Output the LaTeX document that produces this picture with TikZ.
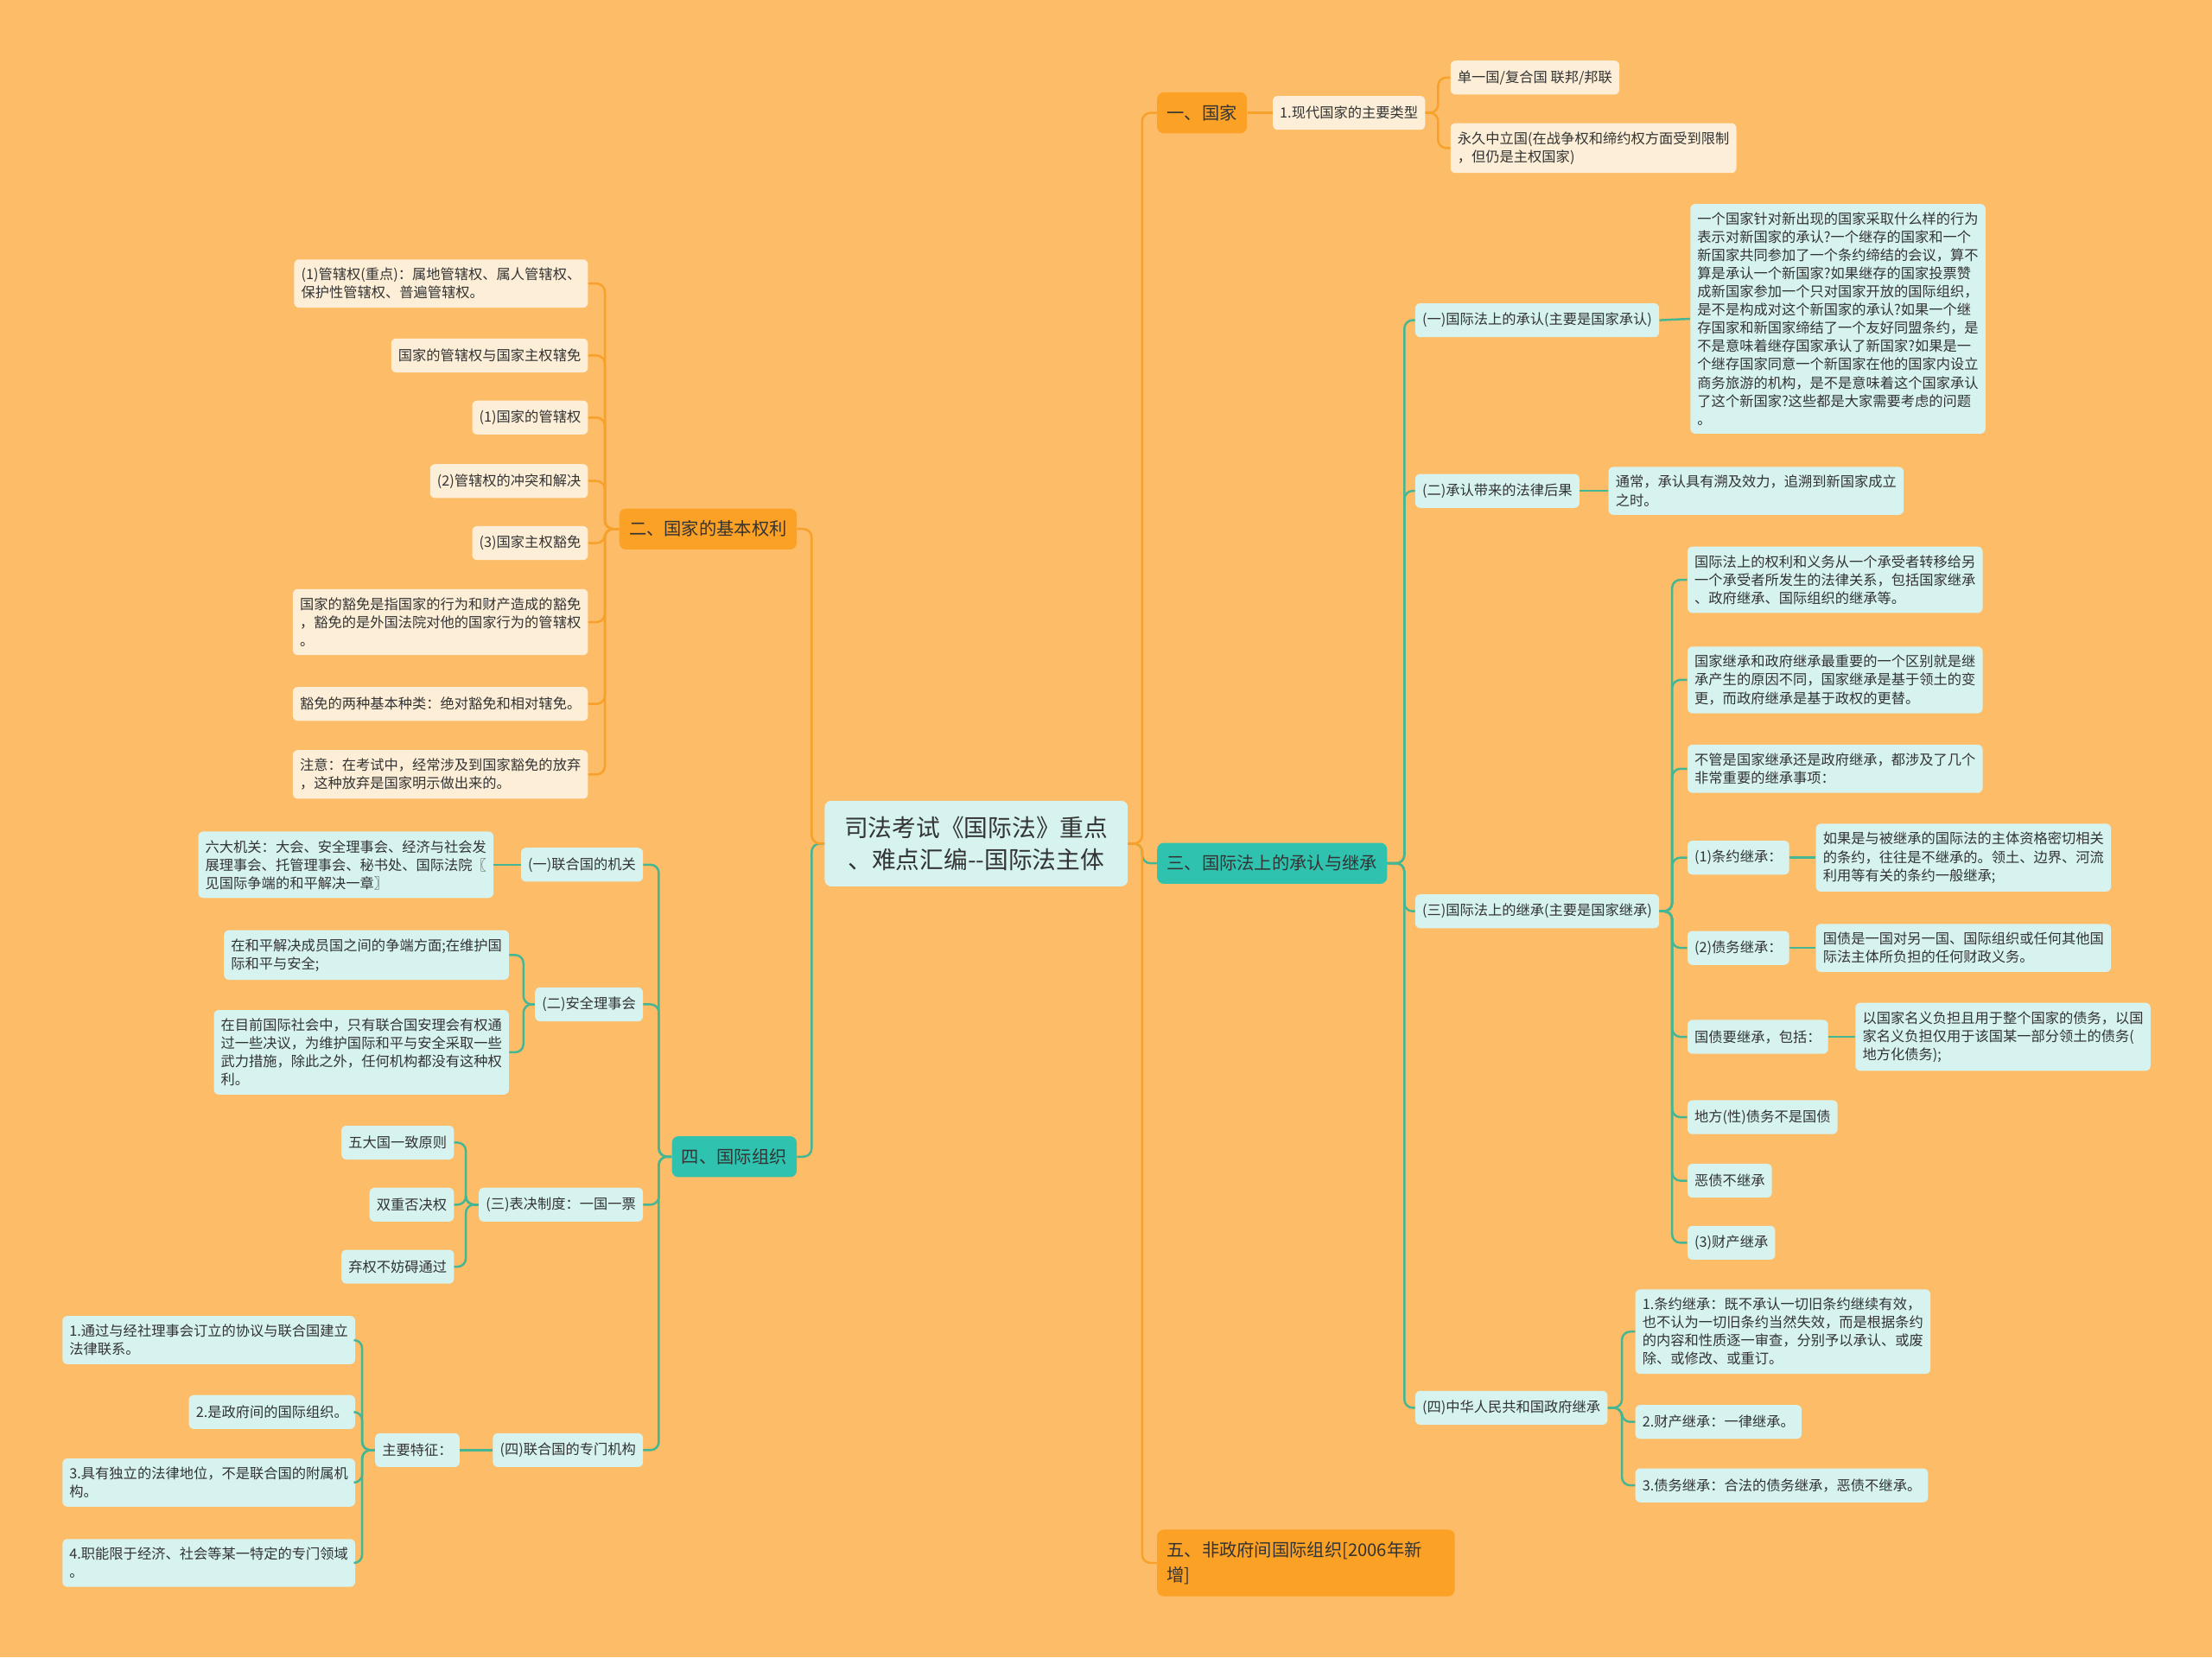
\documentclass[tikz,border=0pt]{standalone}
\usepackage{fontspec}
\setmainfont{Noto Sans CJK SC}
\usepackage{xcolor}
\usepackage{tikz}

\definecolor{bgorange}{HTML}{FDBD68}
\definecolor{mainorange}{HTML}{FBA126}
\definecolor{linkorange}{HTML}{F7A12B}
\definecolor{creambox}{HTML}{FDEFD7}
\definecolor{mainteal}{HTML}{2FC3AF}
\definecolor{linkteal}{HTML}{45B693}
\definecolor{cyanbox}{HTML}{D6F3F0}
\definecolor{inktext}{HTML}{333333}

\tikzset{
  leaf/.style={rounded corners=3pt, inner xsep=0.15cm, inner ysep=0.18cm, minimum height=0.72cm,
    align=left, text=inktext, font=\fontsize{8.5}{11}\selectfont},
  oleaf/.style={leaf, fill=creambox},
  tleaf/.style={leaf, fill=cyanbox},
  topic/.style={rounded corners=4pt, inner xsep=0.21cm, inner ysep=0.25cm, minimum height=0.87cm,
    align=left, text=inktext, font=\fontsize{10.6}{15.3}\selectfont},
  otopic/.style={topic, fill=mainorange},
  ttopic/.style={topic, fill=mainteal},
  olink/.style={draw=linkorange, line width=1.3pt, rounded corners=5pt},
  tlink/.style={draw=linkteal, line width=1.3pt, rounded corners=5pt}
}

\begin{document}
\begin{tikzpicture}[x=0.03cm, y=-0.03cm]
  \fill[bgorange] (0,0) rectangle (1568,1175);

  % root
  \node[rounded corners=4pt, fill=cyanbox, text=inktext, inner xsep=0.42cm, inner ysep=0.33cm,
    align=center, font=\fontsize{14.5}{19.6}\selectfont] (root) at (692,598)
    {司法考试《国际法》重点\\、难点汇编-{}-国际法主体};

  % one: the state
  \node[otopic, anchor=west] (guojia) at (820,80) {一、国家};
  \node[oleaf, anchor=west] (leixing) at (902,80) {1.现代国家的主要类型};
  \node[oleaf, anchor=west] (danyi) at (1028,55) {单一国/复合国 联邦/邦联};
  \node[oleaf, anchor=west] (yongjiu) at (1028,105) {永久中立国(在战争权和缔约权方面受到限制\\，但仍是主权国家)};
  \draw[olink] (guojia.east) -- (leixing.west);
  \foreach \c in {danyi,yongjiu} \draw[olink] (leixing.east) -- ++(9,0) |- (\c.west);

  % three: recognition and succession
  \node[ttopic, anchor=west] (chengji) at (820,612) {三、国际法上的承认与继承};
  \node[tleaf, anchor=west] (chengren) at (1003,227) {(一)国际法上的承认(主要是国家承认)};
  \node[tleaf, anchor=west] (chengrentxt) at (1198,226) {一个国家针对新出现的国家采取什么样的行为\\表示对新国家的承认?一个继存的国家和一个\\新国家共同参加了一个条约缔结的会议，算不\\算是承认一个新国家?如果继存的国家投票赞\\成新国家参加一个只对国家开放的国际组织，\\是不是构成对这个新国家的承认?如果一个继\\存国家和新国家缔结了一个友好同盟条约，是\\不是意味着继存国家承认了新国家?如果是一\\个继存国家同意一个新国家在他的国家内设立\\商务旅游的机构，是不是意味着这个国家承认\\了这个新国家?这些都是大家需要考虑的问题\\。};
  \node[tleaf, anchor=west] (houguo) at (1003,348) {(二)承认带来的法律后果};
  \node[tleaf, anchor=west] (houguotxt) at (1140,348) {通常，承认具有溯及效力，追溯到新国家成立\\之时。};
  \node[tleaf, anchor=west] (jicheng) at (1003,646) {(三)国际法上的继承(主要是国家继承)};
  \node[tleaf, anchor=west] (jc1) at (1196,411) {国际法上的权利和义务从一个承受者转移给另\\一个承受者所发生的法律关系，包括国家继承\\、政府继承、国际组织的继承等。};
  \node[tleaf, anchor=west] (jc2) at (1196,482) {国家继承和政府继承最重要的一个区别就是继\\承产生的原因不同，国家继承是基于领土的变\\更，而政府继承是基于政权的更替。};
  \node[tleaf, anchor=west] (jc3) at (1196,545) {不管是国家继承还是政府继承，都涉及了几个\\非常重要的继承事项：};
  \node[tleaf, anchor=west] (tiaoyue) at (1196,608) {(1)条约继承：};
  \node[tleaf, anchor=west] (tiaoyuetxt) at (1287,608) {如果是与被继承的国际法的主体资格密切相关\\的条约，往往是不继承的。领土、边界、河流\\利用等有关的条约一般继承;};
  \node[tleaf, anchor=west] (zhaiwu) at (1196,672) {(2)债务继承：};
  \node[tleaf, anchor=west] (zhaiwutxt) at (1287,672) {国债是一国对另一国、国际组织或任何其他国\\际法主体所负担的任何财政义务。};
  \node[tleaf, anchor=west] (guozhai) at (1196,735) {国债要继承，包括：};
  \node[tleaf, anchor=west] (guozhaitxt) at (1315,735) {以国家名义负担且用于整个国家的债务，以国\\家名义负担仅用于该国某一部分领土的债务(\\地方化债务);};
  \node[tleaf, anchor=west] (difang) at (1196,792) {地方(性)债务不是国债};
  \node[tleaf, anchor=west] (ezhai) at (1196,837) {恶债不继承};
  \node[tleaf, anchor=west] (caichan) at (1196,881) {(3)财产继承};
  \node[tleaf, anchor=west] (zhonghua) at (1003,998) {(四)中华人民共和国政府继承};
  \node[tleaf, anchor=west] (zh1) at (1159,944) {1.条约继承：既不承认一切旧条约继续有效，\\也不认为一切旧条约当然失效，而是根据条约\\的内容和性质逐一审查，分别予以承认、或废\\除、或修改、或重订。};
  \node[tleaf, anchor=west] (zh2) at (1159,1008) {2.财产继承：一律继承。};
  \node[tleaf, anchor=west] (zh3) at (1159,1053) {3.债务继承：合法的债务继承，恶债不继承。};
  \foreach \c in {chengren,houguo,jicheng,zhonghua} \draw[tlink] (chengji.east) -- ++(12,0) |- (\c.west);
  \draw[tlink] (chengren.east) -- (chengrentxt.west);
  \draw[tlink] (houguo.east) -- (houguotxt.west);
  \foreach \c in {jc1,jc2,jc3,tiaoyue,zhaiwu,guozhai,difang,ezhai,caichan}
    \draw[tlink] (jicheng.east) -- ++(9,0) |- (\c.west);
  \draw[tlink] (tiaoyue.east) -- (tiaoyuetxt.west);
  \draw[tlink] (zhaiwu.east) -- (zhaiwutxt.west);
  \draw[tlink] (guozhai.east) -- (guozhaitxt.west);
  \foreach \c in {zh1,zh2,zh3} \draw[tlink] (zhonghua.east) -- ++(10,0) |- (\c.west);

  % five: NGOs
  \node[otopic, anchor=west, text width=5.91cm] (feizf) at (820,1108) {五、非政府间国际组织[2006年新\\增]};

  % root to the right-hand topics
  \draw[tlink] (root.east) -- ++(10,0) |- (chengji.west);
  \foreach \c in {guojia,feizf} \draw[olink] (root.east) -- ++(10,0) |- (\c.west);

  % two: basic rights of states
  \node[otopic, anchor=east] (quanli) at (565,375) {二、国家的基本权利};
  \node[oleaf, anchor=east] (ql1) at (417,201) {(1)管辖权(重点)：属地管辖权、属人管辖权、\\保护性管辖权、普遍管辖权。};
  \node[oleaf, anchor=east] (ql2) at (417,252) {国家的管辖权与国家主权辖免};
  \node[oleaf, anchor=east] (ql3) at (417,296) {(1)国家的管辖权};
  \node[oleaf, anchor=east] (ql4) at (417,341) {(2)管辖权的冲突和解决};
  \node[oleaf, anchor=east] (ql5) at (417,385) {(3)国家主权豁免};
  \node[oleaf, anchor=east] (ql6) at (417,441) {国家的豁免是指国家的行为和财产造成的豁免\\，豁免的是外国法院对他的国家行为的管辖权\\。};
  \node[oleaf, anchor=east] (ql7) at (417,499) {豁免的两种基本种类：绝对豁免和相对辖免。};
  \node[oleaf, anchor=east] (ql8) at (417,549) {注意：在考试中，经常涉及到国家豁免的放弃\\，这种放弃是国家明示做出来的。};
  \foreach \c in {ql1,ql2,ql3,ql4,ql5,ql6,ql7,ql8} \draw[olink] (quanli.west) -- ++(-10,0) |- (\c.east);

  % four: international organisations
  \node[ttopic, anchor=east] (zuzhi) at (565,820) {四、国际组织};
  \node[tleaf, anchor=east] (jiguan) at (456,613) {(一)联合国的机关};
  \node[tleaf, anchor=east] (jiguantxt) at (350,613) {六大机关：大会、安全理事会、经济与社会发\\展理事会、托管理事会、秘书处、国际法院〖\\见国际争端的和平解决一章〗};
  \node[tleaf, anchor=east] (anli) at (456,712) {(二)安全理事会};
  \node[tleaf, anchor=east] (anli1) at (361,677) {在和平解决成员国之间的争端方面;在维护国\\际和平与安全;};
  \node[tleaf, anchor=east] (anli2) at (361,746) {在目前国际社会中，只有联合国安理会有权通\\过一些决议，为维护国际和平与安全采取一些\\武力措施，除此之外，任何机构都没有这种权\\利。};
  \node[tleaf, anchor=east] (biaojue) at (456,854) {(三)表决制度：一国一票};
  \node[tleaf, anchor=east] (bj1) at (322,810) {五大国一致原则};
  \node[tleaf, anchor=east] (bj2) at (322,854) {双重否决权};
  \node[tleaf, anchor=east] (bj3) at (322,898) {弃权不妨碍通过};
  \node[tleaf, anchor=east] (zhuanmen) at (456,1028) {(四)联合国的专门机构};
  \node[tleaf, anchor=east] (tezheng) at (326,1028) {主要特征：};
  \node[tleaf, anchor=east] (tz1) at (252,950) {1.通过与经社理事会订立的协议与联合国建立\\法律联系。};
  \node[tleaf, anchor=east] (tz2) at (252,1001) {2.是政府间的国际组织。};
  \node[tleaf, anchor=east] (tz3) at (252,1051) {3.具有独立的法律地位，不是联合国的附属机\\构。};
  \node[tleaf, anchor=east] (tz4) at (252,1108) {4.职能限于经济、社会等某一特定的专门领域\\。};
  \foreach \c in {jiguan,anli,biaojue,zhuanmen} \draw[tlink] (zuzhi.west) -- ++(-9,0) |- (\c.east);
  \draw[tlink] (jiguan.west) -- (jiguantxt.east);
  \foreach \c in {anli1,anli2} \draw[tlink] (anli.west) -- ++(-8,0) |- (\c.east);
  \foreach \c in {bj1,bj2,bj3} \draw[tlink] (biaojue.west) -- ++(-9,0) |- (\c.east);
  \draw[tlink] (zhuanmen.west) -- (tezheng.east);
  \foreach \c in {tz1,tz2,tz3,tz4} \draw[tlink] (tezheng.west) -- ++(-9,0) |- (\c.east);

  % root to the left-hand topics
  \draw[tlink] (root.west) -- ++(-9,0) |- (zuzhi.east);
  \draw[olink] (root.west) -- ++(-9,0) |- (quanli.east);
\end{tikzpicture}
\end{document}
